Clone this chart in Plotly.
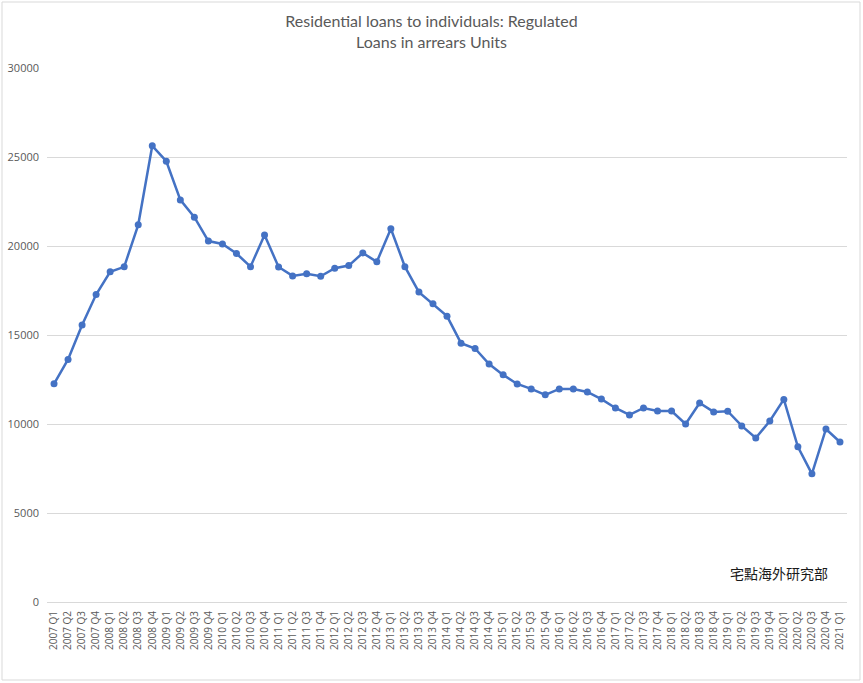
import plotly.graph_objects as go

quarters = [
    "2007 Q1", "2007 Q2", "2007 Q3", "2007 Q4",
    "2008 Q1", "2008 Q2", "2008 Q3", "2008 Q4",
    "2009 Q1", "2009 Q2", "2009 Q3", "2009 Q4",
    "2010 Q1", "2010 Q2", "2010 Q3", "2010 Q4",
    "2011 Q1", "2011 Q2", "2011 Q3", "2011 Q4",
    "2012 Q1", "2012 Q2", "2012 Q3", "2012 Q4",
    "2013 Q1", "2013 Q2", "2013 Q3", "2013 Q4",
    "2014 Q1", "2014 Q2", "2014 Q3", "2014 Q4",
    "2015 Q1", "2015 Q2", "2015 Q3", "2015 Q4",
    "2016 Q1", "2016 Q2", "2016 Q3", "2016 Q4",
    "2017 Q1", "2017 Q2", "2017 Q3", "2017 Q4",
    "2018 Q1", "2018 Q2", "2018 Q3", "2018 Q4",
    "2019 Q1", "2019 Q2", "2019 Q3", "2019 Q4",
    "2020 Q1", "2020 Q2", "2020 Q3", "2020 Q4",
    "2021 Q1",
]

loans_in_arrears = [
    12260, 13630, 15560, 17270,
    18550, 18830, 21190, 25630,
    24760, 22590, 21620, 20280,
    20110, 19580, 18840, 20620,
    18820, 18320, 18440, 18300,
    18750, 18900, 19610, 19110,
    20970, 18840, 17410, 16760,
    16060, 14540, 14240, 13370,
    12760, 12250, 11970, 11640,
    11970, 11960, 11800, 11400,
    10900, 10510, 10900, 10730,
    10730, 10000, 11180, 10680,
    10720, 9890, 9210, 10170,
    11380, 8720, 7200, 9720,
    8990,
]

y_ticks = [0, 5000, 10000, 15000, 20000, 25000, 30000]

title_text = "Residential loans to individuals: Regulated<br>Loans in arrears Units"
watermark = "宅點海外研究部"

fig = go.Figure()
fig.add_trace(go.Scatter(
    x=quarters,
    y=loans_in_arrears,
    mode="lines+markers",
    line=dict(color="#4472C4", width=2.5),
    marker=dict(color="#4472C4", size=7),
    showlegend=False,
    hoverinfo="x+y",
))

fig.update_layout(
    width=863,
    height=683,
    paper_bgcolor="white",
    plot_bgcolor="white",
    margin=dict(l=47, r=16, t=68, b=81, autoexpand=False),
    font=dict(family="Lato, 'Open Sans', sans-serif", color="#595959"),
    title=dict(
        text=title_text,
        x=0.5,
        xref="container",
        xanchor="center",
        y=1 - 27 / 683,
        yref="container",
        yanchor="top",
        font=dict(size=16, color="#595959", family="Lato, 'Open Sans', sans-serif"),
    ),
    xaxis=dict(
        type="category",
        tickangle=-90,
        tickfont=dict(size=10, color="#595959", family="'Open Sans', sans-serif"),
        showgrid=False,
        showline=True,
        linecolor="#D9D9D9",
        linewidth=1,
        ticks="",
        ticklen=0,
        ticklabelstandoff=4,
        range=[-0.5, len(quarters) - 0.5],
        fixedrange=True,
    ),
    yaxis=dict(
        range=[0, 30000],
        tickvals=y_ticks,
        ticktext=[str(v) for v in y_ticks],
        tickfont=dict(size=11, color="#595959", family="'Open Sans', sans-serif"),
        showgrid=True,
        gridcolor="#D9D9D9",
        gridwidth=1,
        zeroline=False,
        ticks="",
        ticklabelstandoff=7,
        fixedrange=True,
    ),
    annotations=[
        dict(
            text=watermark,
            x=(779 - 47) / 800,
            y=(602 - 573) / 534,
            xref="paper",
            yref="paper",
            xanchor="center",
            yanchor="middle",
            showarrow=False,
            font=dict(size=14, color="#1a1a1a", family="'Noto Sans CJK SC', 'Noto Sans CJK TC', sans-serif"),
        )
    ],
    shapes=[
        dict(
            type="rect",
            xref="paper",
            yref="paper",
            x0=(2 - 47) / 800,
            x1=(860 - 47) / 800,
            y0=(602 - 680) / 534,
            y1=(602 - 2) / 534,
            line=dict(color="#D9D9D9", width=1),
            fillcolor="rgba(0,0,0,0)",
            layer="below",
        )
    ],
)

fig.write_html(
    "out.html",
    config={"displayModeBar": False},
    post_script="document.body.style.margin='0';document.body.style.padding='0';",
)
